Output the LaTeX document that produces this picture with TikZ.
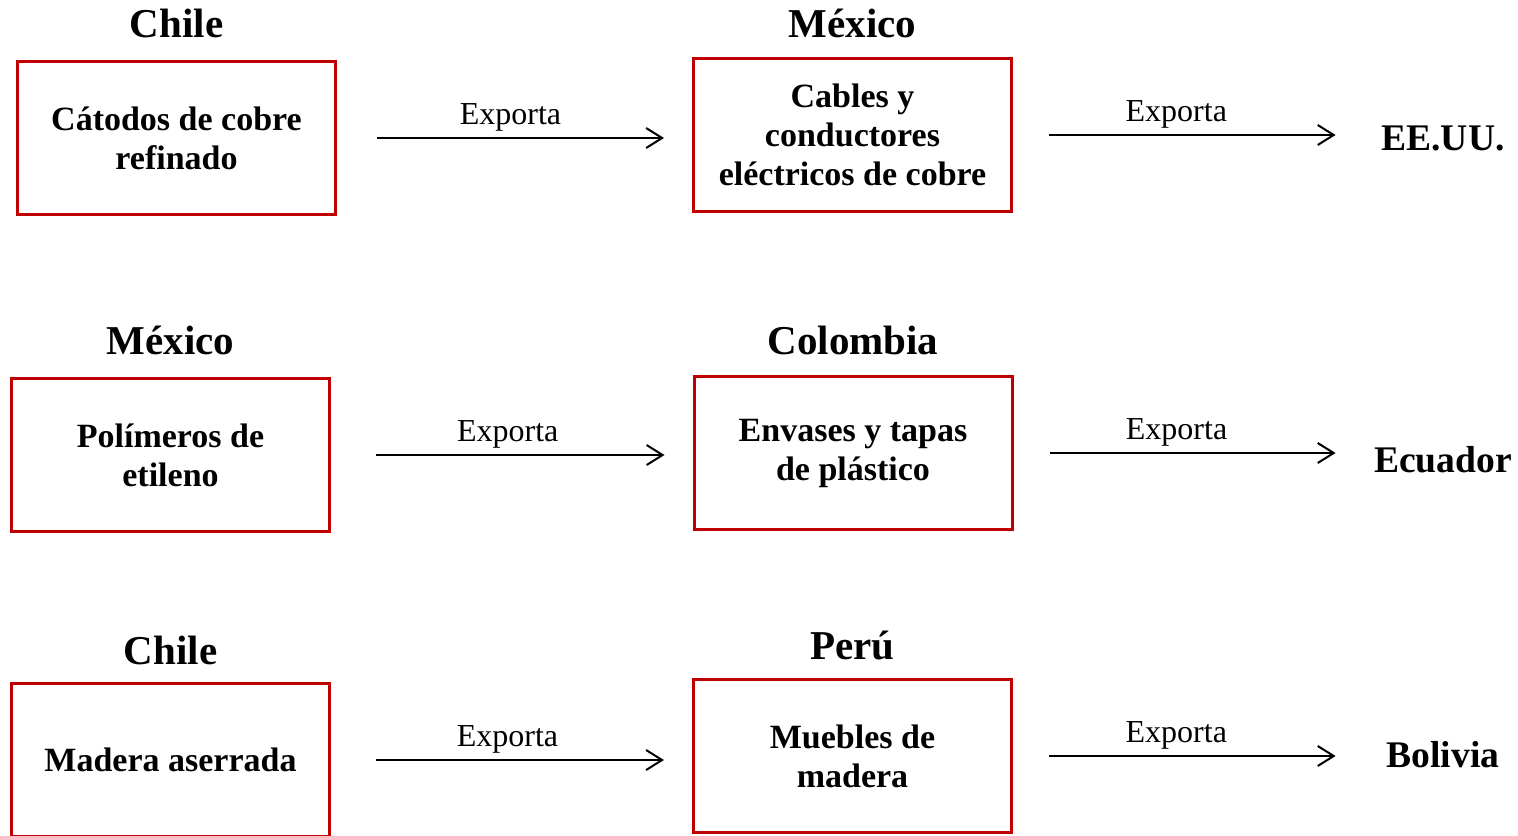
\documentclass[tikz,border=0pt]{standalone}
\usepackage{fontspec}
\setmainfont{Liberation Serif}
\usetikzlibrary{positioning,arrows.meta}
\definecolor{boxred}{RGB}{192,0,0}

\begin{document}
\begin{tikzpicture}[
x=0.5pt, y=-0.5pt,
node distance=10pt,
    X/.style = {rectangle, draw=boxred, line width=1.5pt,% product boxes
                minimum width=159pt, minimum height=76.5pt,
                align=center, inner sep=0pt,
                font=\bfseries\fontsize{17}{19.5}\selectfont},
    T/.style = {inner sep=0pt, font=\bfseries\fontsize{20.5}{24}\selectfont},% countries above boxes
    D/.style = {inner sep=0pt, minimum width=75pt,% final destination, same width so arrows end alike
                font=\bfseries\fontsize{18.8}{22}\selectfont},
    A/.style = {-{Straight Barb[length=8pt, width=10pt]}, line width=1pt},
    E/.style = {midway, above=3pt, inner sep=0pt, font=\fontsize{16}{18}\selectfont},
                        ]
\useasboundingbox (0,0) rectangle (1518,835);

% row 1
\node[X] (c1) at (176.5,138) {Cátodos de cobre\\ refinado};
\node[X] (m1) at (852.5,135) {Cables y\\ conductores\\ eléctricos de cobre};
\node[D] (d1) at (1443,138) {EE.UU.};
\node[T, above=11pt of c1] {Chile};
\node[T, above=9.5pt of m1] {México};

% row 2
\node[X] (c2) at (170.5,455) {Polímeros de\\ etileno};
\node[X] (m2) at (853,453) {Envases y tapas\\ de plástico};
\node[D] (d2) at (1443,460) {Ecuador};
\node[T, above=11pt of c2] {México};
\node[T, above=10pt of m2] {Colombia};

% row 3
\node[X] (c3) at (170.5,760) {Madera aserrada};
\node[X] (m3) at (852.5,756) {Muebles de\\ madera};
\node[D] (d3) at (1443,755) {Bolivia};
\node[T, above=8.5pt of c3] {Chile};
\node[T, above=9pt of m3] {Perú};

\foreach \i/\s in {1/20pt,2/22.5pt,3/22.5pt}{
\draw[A, shorten <=\s, shorten >=14pt] (c\i.east) -- (c\i.east -| m\i.west) node[E, xshift=-2pt] {Exporta};
\draw[A, shorten <=18pt, shorten >=16pt] (m\i.east) -- (m\i.east -| d\i.west) node[E, xshift=-7pt] {Exporta};
}

\end{tikzpicture}
\end{document}
